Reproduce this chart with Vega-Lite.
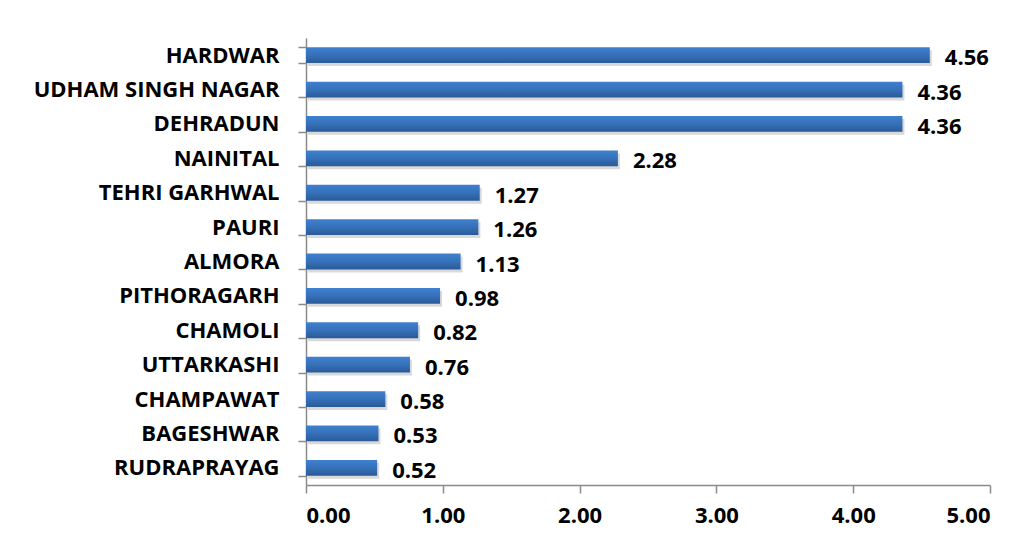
{
  "$schema": "https://vega.github.io/schema/vega-lite/v6.json",
  "autosize": {"type": "none"},
  "width": 684,
  "height": 447,
  "padding": {"left": 306, "top": 38, "right": 37, "bottom": 63},
  "background": "white",
  "config": {"view": {"stroke": null}, "font": "Open Sans"},
  "data": {"values": [
    {"district": "HARDWAR", "value": 4.56},
    {"district": "UDHAM SINGH NAGAR", "value": 4.36},
    {"district": "DEHRADUN", "value": 4.36},
    {"district": "NAINITAL", "value": 2.28},
    {"district": "TEHRI GARHWAL", "value": 1.27},
    {"district": "PAURI", "value": 1.26},
    {"district": "ALMORA", "value": 1.13},
    {"district": "PITHORAGARH", "value": 0.98},
    {"district": "CHAMOLI", "value": 0.82},
    {"district": "UTTARKASHI", "value": 0.76},
    {"district": "CHAMPAWAT", "value": 0.58},
    {"district": "BAGESHWAR", "value": 0.53},
    {"district": "RUDRAPRAYAG", "value": 0.52}
  ]},
  "encoding": {
    "y": {
      "field": "district", "type": "nominal", "sort": null,
      "scale": {"paddingInner": 0.54, "paddingOuter": 0.27},
      "axis": {
        "title": null, "domainColor": "#8a8a8a", "domainWidth": 1.5,
        "tickColor": "#8a8a8a", "tickWidth": 1.5, "tickSize": 8, "tickBand": "extent",
        "labelFont": "Open Sans", "labelFontWeight": "bold", "labelFontSize": 22,
        "labelColor": "#000000", "labelPadding": 19, "labelLimit": 400
      }
    },
    "x": {
      "field": "value", "type": "quantitative",
      "scale": {"domain": [0, 5], "nice": false},
      "axis": {
        "title": null, "values": [0, 1, 2, 3, 4, 5], "format": ".2f", "grid": false,
        "domainColor": "#8a8a8a", "domainWidth": 1.5,
        "tickColor": "#8a8a8a", "tickWidth": 1.5, "tickSize": 8,
        "labelFont": "Open Sans", "labelFontWeight": "bold", "labelFontSize": 22,
        "labelColor": "#000000", "labelPadding": 12
      }
    }
  },
  "layer": [
    {
      "mark": {"type": "bar", "color": "#000000", "opacity": 0.15, "xOffset": 2, "yOffset": 3, "x2Offset": 2, "y2Offset": 3}
    },
    {
      "mark": {"type": "bar", "color": {"gradient": "linear", "x1": 0, "y1": 0, "x2": 0, "y2": 1,
        "stops": [{"offset": 0, "color": "#3f80cf"}, {"offset": 0.5, "color": "#3671b9"}, {"offset": 1, "color": "#2a5a98"}]}}
    },
    {
      "mark": {"type": "text", "align": "left", "baseline": "middle", "dx": 15, "dy": 3,
        "font": "Open Sans", "fontWeight": "bold", "fontSize": 22, "color": "#000000"},
      "encoding": {"text": {"field": "value", "type": "quantitative", "format": ".2f"}}
    }
  ]
}
